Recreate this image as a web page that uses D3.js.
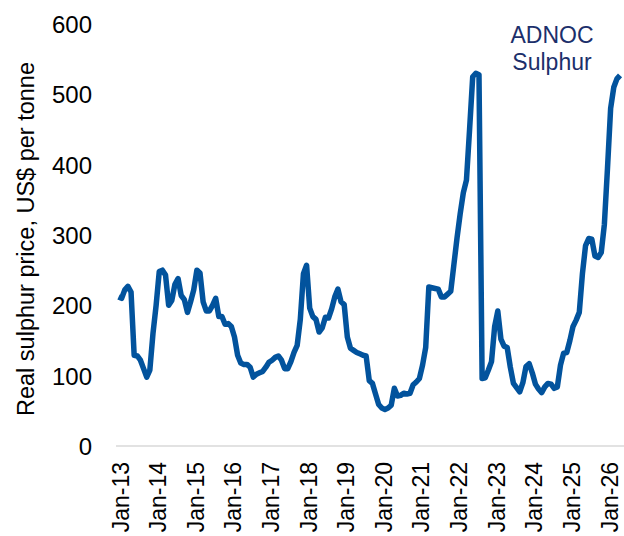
<!DOCTYPE html>
<html>
<head>
<meta charset="utf-8">
<script src="https://cdn.jsdelivr.net/npm/d3@7"></script>
<style>
  html, body { margin: 0; padding: 0; background: #fff; }
  svg { display: block; }
</style>
</head>
<body>
<div id="chart"></div>
<script>
// Monthly real sulphur price (ADNOC), starting Jan-13
const startYear = 2013;
const prices = [
  // 2013
  212, 210, 222, 227, 219, 129, 128, 122, 110, 98, 108, 160,
  // 2014
  200, 248, 250, 243, 200, 207, 230, 238, 214, 208, 190, 205,
  // 2015
  222, 250, 246, 205, 192, 192, 200, 210, 184, 184, 173, 174,
  // 2016
  170, 155, 129, 118, 116, 116, 112, 98, 102, 104, 106, 112,
  // 2017
  119, 122, 126, 128, 122, 110, 110, 120, 133, 143, 180, 245,
  // 2018
  257, 196, 184, 180, 162, 168, 183, 182, 195, 212, 223, 205,
  // 2019
  201, 155, 139, 136, 133, 131, 129, 128, 93, 89, 74, 59,
  // 2020
  54, 52, 54, 58, 82, 71, 72, 75, 74, 75, 87, 91,
  // 2021
  96, 115, 140, 226, 225, 224, 223, 212, 212, 216, 220, 258,
  // 2022
  296, 330, 360, 378, 450, 525, 530, 528, 96, 97, 108, 120,
  // 2023
  170, 192, 152, 142, 140, 112, 89, 83, 77, 90, 113, 117,
  // 2024
  104, 88, 81, 76, 84, 89, 88, 82, 84, 115, 132, 133,
  // 2025
  150, 170, 179, 190, 245, 285, 295, 294, 270, 268, 275, 315,
  // 2026
  395, 480, 510, 522, 527
];
const yTicks = [0, 100, 200, 300, 400, 500, 600];
const xTickLabels = ["Jan-13","Jan-14","Jan-15","Jan-16","Jan-17","Jan-18","Jan-19",
                     "Jan-20","Jan-21","Jan-22","Jan-23","Jan-24","Jan-25","Jan-26"];
const yTitle = "Real sulphur price, US$ per tonne";
const seriesLabel = ["ADNOC", "Sulphur"];

const W = 624, H = 536;
const svg = d3.select("#chart").append("svg")
  .attr("width", W).attr("height", H);

const x = d3.scaleLinear().domain([0, 156]).range([118.5, 607.5]);
const y = d3.scaleLinear().domain([0, 600]).range([446, 24]);

const font = "'Liberation Sans', Arial, sans-serif";

// baseline axis line
svg.append("line")
  .attr("x1", 116).attr("x2", W)
  .attr("y1", y(0)).attr("y2", y(0))
  .attr("stroke", "#d9d9d9").attr("stroke-width", 1.5);

// y axis labels
const yAxis = d3.axisLeft(y).tickValues(yTicks).tickSize(0).tickPadding(0);
const gy = svg.append("g").attr("transform", "translate(92,0)").call(yAxis);
gy.select(".domain").remove();
gy.selectAll("text")
  .attr("font-family", font).attr("font-size", 24).attr("fill", "#000")
  .attr("dy", "0.35em");

// x axis labels (rotated)
const xAxis = d3.axisBottom(x)
  .tickValues(xTickLabels.map((d, i) => i * 12))
  .tickFormat((d, i) => xTickLabels[i])
  .tickSize(0);
const gx = svg.append("g").attr("transform", `translate(0,${y(0)})`).call(xAxis);
gx.select(".domain").remove();
gx.selectAll("text")
  .attr("font-family", font).attr("font-size", 23).attr("fill", "#000")
  .attr("text-anchor", "end")
  .attr("transform", "rotate(-90)")
  .attr("x", -16).attr("y", 0).attr("dx", 0).attr("dy", "0.35em");
gx.selectAll(".tick").attr("transform", d => `translate(${x(d) + 2},0)`);

// y title
svg.append("text")
  .attr("transform", `translate(34,${(60 + 418) / 2}) rotate(-90)`)
  .attr("text-anchor", "middle")
  .attr("font-family", font).attr("font-size", 23.5).attr("fill", "#000")
  .text(yTitle);

// line
const line = d3.line()
  .x((d, i) => x(i))
  .y(d => y(d));
svg.append("path")
  .datum(prices)
  .attr("d", line)
  .attr("fill", "none")
  .attr("stroke", "#02539d")
  .attr("stroke-width", 5.5)
  .attr("stroke-linejoin", "round")
  .attr("stroke-linecap", "butt");

// series label
svg.append("text")
  .attr("x", 552).attr("y", 43)
  .attr("text-anchor", "middle")
  .attr("font-family", font).attr("font-size", 23).attr("fill", "#1c2f6b")
  .selectAll("tspan")
  .data(seriesLabel)
  .join("tspan")
  .attr("x", 552)
  .attr("dy", (d, i) => i === 0 ? 0 : 27)
  .text(d => d);
</script>
</body>
</html>
